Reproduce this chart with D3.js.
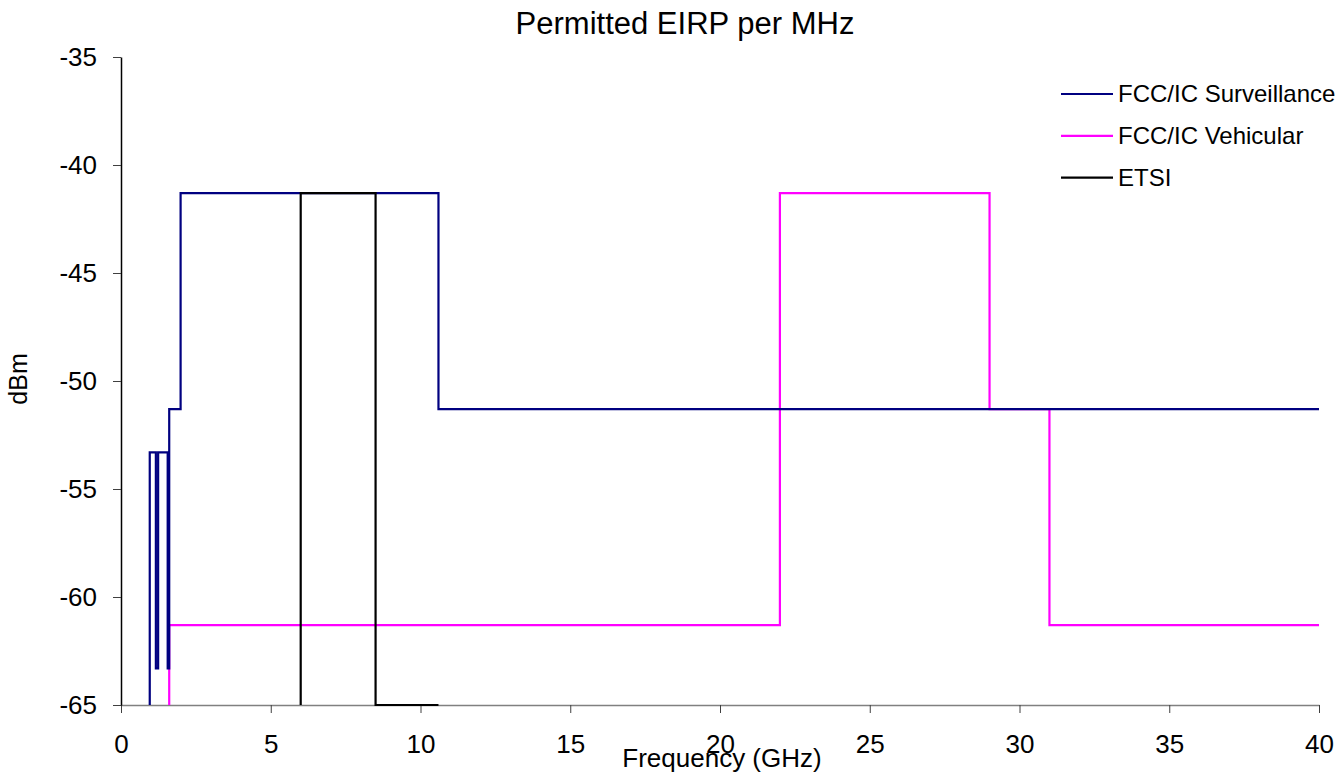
<!DOCTYPE html>
<html>
<head>
<meta charset="utf-8">
<script src="https://cdn.jsdelivr.net/npm/d3@7"></script>
<style>
  html, body { margin: 0; padding: 0; background: #fff; }
  svg text { font-family: Arial, "Liberation Sans", sans-serif; fill: #000; }
</style>
</head>
<body>
<svg id="chart" width="1338" height="780"></svg>
<script>
// Step-wise EIRP limits (frequency in GHz, level in dBm/MHz)
const surveillanceFreq = [0.96, 0.96, 1.164, 1.164, 1.24, 1.24, 1.559, 1.559, 1.61, 1.61, 1.99, 1.99, 10.6, 10.6, 40];
const surveillanceDbm  = [-65, -53.3, -53.3, -63.3, -63.3, -53.3, -53.3, -63.3, -63.3, -51.3, -51.3, -41.3, -41.3, -51.3, -51.3];

const vehicularFreq = [1.61, 1.61, 22, 22, 29, 29, 31, 31, 40];
const vehicularDbm  = [-65, -61.3, -61.3, -41.3, -41.3, -51.3, -51.3, -61.3, -61.3];

const etsiFreq = [6, 6, 8.5, 8.5, 10.6];
const etsiDbm  = [-65, -41.3, -41.3, -65, -65];

const seriesNames  = ["FCC/IC Surveillance", "FCC/IC Vehicular", "ETSI"];
const seriesColors = ["#000080", "#FF00FF", "#000000"];

const xTicks = [0, 5, 10, 15, 20, 25, 30, 35, 40];
const yTicks = [-35, -40, -45, -50, -55, -60, -65];

const svg = d3.select("#chart");
const plotLeft = 121, plotRight = 1319, plotTop = 57, plotBottom = 705;

const x = d3.scaleLinear().domain([0, 40]).range([plotLeft, plotRight]);
const y = d3.scaleLinear().domain([-65, -35]).range([plotBottom, plotTop]);

// plain hyphen for negative numbers
const plainFormat = d => String(d);

// Axes
const xAxis = svg.append("g")
  .attr("transform", `translate(0,${plotBottom})`)
  .call(d3.axisBottom(x).tickValues(xTicks).tickFormat(plainFormat)
    .tickSize(8).tickPadding(22).tickSizeOuter(0));
xAxis.select(".domain").attr("stroke", "#808080").attr("stroke-width", 1.5);
xAxis.selectAll(".tick line").attr("stroke", "#404040");
xAxis.selectAll("text").style("font-size", "26px");

const yAxis = svg.append("g")
  .attr("transform", `translate(${plotLeft},0)`)
  .call(d3.axisLeft(y).tickValues(yTicks).tickFormat(plainFormat)
    .tickSize(8).tickPadding(16).tickSizeOuter(0));
yAxis.select(".domain").attr("stroke", "#000").attr("stroke-width", 1.5);
yAxis.selectAll(".tick line").attr("stroke", "#404040");
yAxis.selectAll("text").style("font-size", "26px");

// Series lines
const line = d3.line().x(d => x(d[0])).y(d => y(d[1]));
const series = [
  d3.zip(surveillanceFreq, surveillanceDbm),
  d3.zip(vehicularFreq, vehicularDbm),
  d3.zip(etsiFreq, etsiDbm)
];
// vehicular first, then surveillance, then ETSI on top
[1, 0, 2].forEach(i => {
  svg.append("path")
    .datum(series[i])
    .attr("fill", "none")
    .attr("stroke", seriesColors[i])
    .attr("stroke-width", 2.2)
    .attr("d", line);
});

// Legend
const legend = svg.append("g");
seriesNames.forEach((name, i) => {
  const ly = 94 + i * 41.8;
  legend.append("line")
    .attr("x1", 1061).attr("x2", 1113)
    .attr("y1", ly).attr("y2", ly)
    .attr("stroke", seriesColors[i]).attr("stroke-width", 2.2);
  legend.append("text")
    .attr("x", 1118).attr("y", ly)
    .attr("dy", "0.35em")
    .style("font-size", "24px")
    .text(name);
});

// Titles
svg.append("text")
  .attr("x", 685).attr("y", 34)
  .attr("text-anchor", "middle")
  .style("font-size", "31px")
  .text("Permitted EIRP per MHz");

svg.append("text")
  .attr("x", 722).attr("y", 767)
  .attr("text-anchor", "middle")
  .style("font-size", "26px")
  .text("Frequency (GHz)");

svg.append("text")
  .attr("transform", "translate(27,379) rotate(-90)")
  .attr("text-anchor", "middle")
  .style("font-size", "25px")
  .text("dBm");
</script>
</body>
</html>
